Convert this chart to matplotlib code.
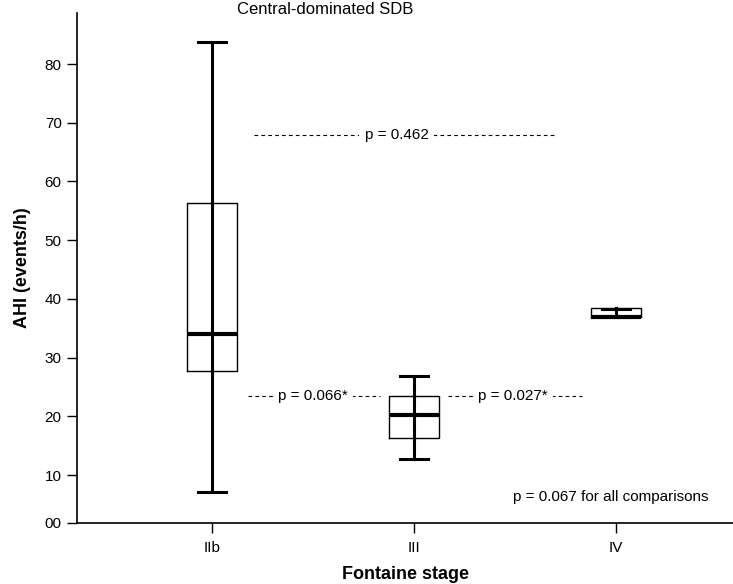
import matplotlib
matplotlib.use("Agg")
import matplotlib.pyplot as plt
import matplotlib.transforms as mtransforms

plt.rcParams['font.family'] = ['Liberation Sans', 'DejaVu Sans']

categories = ["IIb", "III", "IV"]
whis_low = [7.1, 12.7, 37.0]
q1 = [27.8, 16.3, 36.9]
median = [34.0, 20.2, 37.0]
q3 = [56.4, 23.4, 38.4]
whis_high = [83.7, 26.8, 38.2]

yticks = [10, 20, 30, 40, 50, 60, 70, 80]
ytick_labels = ["00", "10", "20", "30", "40", "50", "60", "70", "80"]
y_bottom = 1.9
y_top = 88.7

p_pair_labels = ["p = 0.066*", "p = 0.027*"]
p_pair_y = 23.4
p_all_label = "p = 0.462"
p_all_y = 67.9
p_overall = "p = 0.067 for all comparisons"

fig = plt.figure(figsize=(7.33, 5.84), dpi=100)
ax = fig.add_axes([77/733, 1 - 522.6/584, 1 - 77/733, (522.6 - 13)/584])

stats = []
for i, c in enumerate(categories):
    stats.append(dict(label=c, whislo=whis_low[i], q1=q1[i], med=median[i],
                      q3=q3[i], whishi=whis_high[i], fliers=[]))
pos = [1, 2, 3]
ax.bxp(stats, positions=pos, widths=0.25, showfliers=False,
       boxprops=dict(color='black', linewidth=1.0),
       medianprops=dict(color='black', linewidth=3.0),
       whiskerprops=dict(color='black', linewidth=2.2),
       capprops=dict(color='black', linewidth=2.2),
       capwidths=0.14)

# whisker line continues through the box in the reference
for i, p in enumerate(pos):
    ax.plot([p, p], [q1[i], q3[i]], color='black', linewidth=2.2, zorder=1.5)

ax.set_xlim(1 - 135/202, 3 + 117/202)
ax.set_ylim(y_bottom, y_top)
ax.set_yticks([y_bottom] + yticks)
ax.set_yticklabels(ytick_labels)
ax.set_xticks(pos)
ax.set_xticklabels(categories)
ax.tick_params(axis='both', length=7, width=1, labelsize=11, color='black')
ax.tick_params(axis='y', pad=4)
ax.tick_params(axis='x', pad=6)
ax.spines['top'].set_visible(False)
ax.spines['right'].set_visible(False)
ax.spines['left'].set_linewidth(1.2)
ax.spines['bottom'].set_linewidth(1.2)

ax.set_xlabel("Fontaine stage", fontsize=13, fontweight='bold', labelpad=8)
ax.set_ylabel("AHI (events/h)", fontsize=13, fontweight='bold', labelpad=10)

title_tr = mtransforms.blended_transform_factory(ax.transData, fig.transFigure)
ax.text(1.56, 1 - 10/584, "Central-dominated SDB", transform=title_tr,
        ha='center', va='center', fontsize=12, clip_on=False)

bbox = dict(facecolor='white', edgecolor='none', pad=4)
dash = (0, (3.3, 2.9))
ax.plot([1.21, 2.71], [p_all_y, p_all_y], color='black', linestyle=dash, linewidth=0.8)
ax.text(1.915, p_all_y, p_all_label, ha='center', va='center', fontsize=11, bbox=bbox)

ax.plot([1.18, 1.83], [p_pair_y, p_pair_y], color='black', linestyle=dash, linewidth=0.8)
ax.text(1.50, p_pair_y, p_pair_labels[0], ha='center', va='center', fontsize=11, bbox=bbox)
ax.plot([2.17, 2.83], [p_pair_y, p_pair_y], color='black', linestyle=dash, linewidth=0.8)
ax.text(2.49, p_pair_y, p_pair_labels[1], ha='center', va='center', fontsize=11, bbox=bbox)

ax.text(3.46, 6.3, p_overall, ha='right', va='center', fontsize=11)

fig.savefig("out.png", dpi=100)
